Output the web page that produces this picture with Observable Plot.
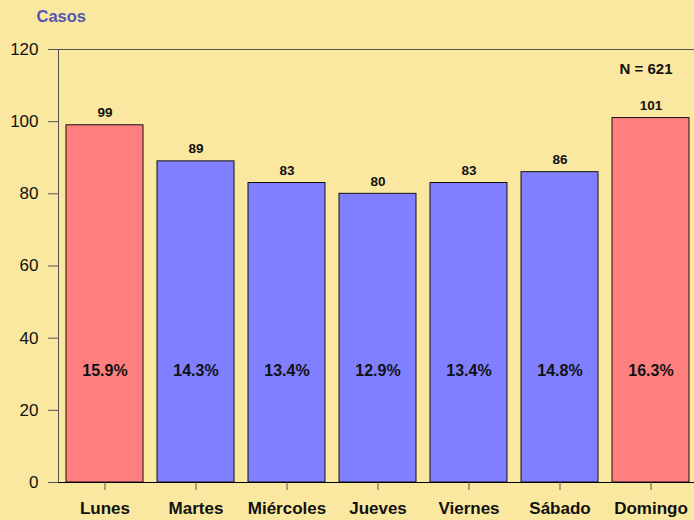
<!DOCTYPE html>
<html>
<head>
<meta charset="utf-8">
<script src="https://cdn.jsdelivr.net/npm/d3@7"></script>
<script src="https://cdn.jsdelivr.net/npm/@observablehq/plot@0.6"></script>
<style>
  html, body { margin: 0; padding: 0; background: #FAE8A0; }
  #chart svg { display: block; }
</style>
</head>
<body>
<div id="chart"></div>
<script>
const days = ["Lunes", "Martes", "Miércoles", "Jueves", "Viernes", "Sábado", "Domingo"];
const cases = [99, 89, 83, 80, 83, 86, 101];
const percents = ["15.9%", "14.3%", "13.4%", "12.9%", "13.4%", "14.8%", "16.3%"];
const weekend = [true, false, false, false, false, false, true];
const yTicks = [0, 20, 40, 60, 80, 100, 120];
const totalLabel = "N = 621";
const yTitle = "Casos";

const data = days.map((d, i) => ({day: d, n: cases[i], pct: percents[i], weekend: weekend[i]}));

const font = "'Liberation Sans', Arial, Helvetica, sans-serif";

const chart = Plot.plot({
  width: 694,
  height: 520,
  marginLeft: 58,
  marginRight: -2.5,
  marginTop: 49,
  marginBottom: 38,
  style: {background: "#FAE8A0", fontFamily: font, color: "#111"},
  x: {domain: days, paddingInner: 0.152, paddingOuter: 0.069, label: null},
  y: {domain: [0, 120], label: null},
  marks: [
    Plot.frame({stroke: "#555", strokeWidth: 1}),
    Plot.barY(data, {
      x: "day", y: "n",
      fill: d => d.weekend ? "#FF7F7F" : "#7F7FFF",
      stroke: "#111", strokeWidth: 1
    }),
    Plot.ruleY([0], {stroke: "#000", strokeWidth: 1.2}),
    Plot.axisY({
      ticks: yTicks, tickSize: 10, tickPadding: 10,
      fontSize: 17, stroke: "#555", fill: "#111", label: null
    }),
    Plot.axisX({
      tickSize: 8, tickPadding: 11, fontSize: 17, fontWeight: "bold",
      stroke: "#555", fill: "#111", label: null
    }),
    Plot.text(data, {
      x: "day", y: "n", text: d => String(d.n),
      lineAnchor: "bottom", dy: -8,
      fontSize: 13.5, fontWeight: "bold", fill: "#111"
    }),
    Plot.text(data, {
      x: "day", y: () => 29.5, text: "pct",
      lineAnchor: "bottom",
      fontSize: 16, fontWeight: "bold", fill: "#111"
    }),
    Plot.text([totalLabel], {
      frameAnchor: "top-right", text: d => d, textAnchor: "middle", lineAnchor: "middle",
      dx: -51, dy: 20, fontSize: 15, fontWeight: "bold", fill: "#111"
    }),
    Plot.text([yTitle], {
      frameAnchor: "top-left", text: d => d, textAnchor: "start", lineAnchor: "middle",
      dx: -22, dy: -33, fontSize: 16.5, fontWeight: "bold", fill: "#5555B0"
    })
  ]
});

document.getElementById("chart").appendChild(chart);
</script>
</body>
</html>
